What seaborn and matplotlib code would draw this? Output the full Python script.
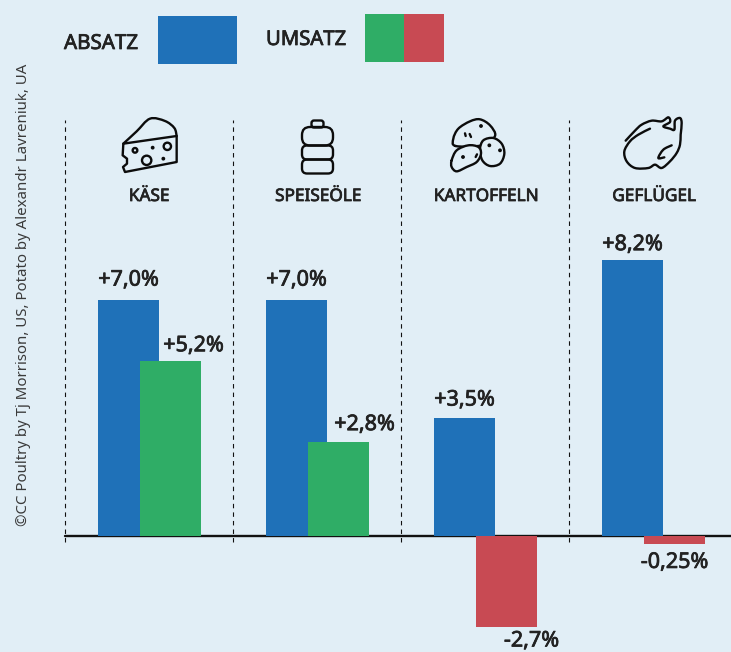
import numpy as np
import pandas as pd
import matplotlib
matplotlib.use('Agg')
import matplotlib.pyplot as plt
import matplotlib.patheffects as pe
import seaborn as sns
from matplotlib.path import Path
from matplotlib.patches import PathPatch, Circle, Rectangle, FancyBboxPatch

categories = ['KÄSE', 'SPEISEÖLE', 'KARTOFFELN', 'GEFLÜGEL']
absatz = [7.0, 7.0, 3.5, 8.2]
umsatz = [5.2, 2.8, -2.7, -0.25]
absatz_labels = ['+7,0%', '+7,0%', '+3,5%', '+8,2%']
umsatz_labels = ['+5,2%', '+2,8%', '-2,7%', '-0,25%']
credit = '©CC Poultry by Tj Morrison, US, Potato by Alexandr Lavreniuk, UA'

BG = '#E1EEF6'
BLUE = '#1F71B8'
GREEN = '#2FAD66'
RED = '#C84A53'
INK = '#222222'
DARK = '#0c0c0c'
FONT = 'Noto Sans'

sns.set_theme(style='white', rc={'axes.facecolor': BG, 'figure.facecolor': BG})
plt.rcParams['font.family'] = [FONT, 'DejaVu Sans']

# one group = 168 px, one percent = 33.7 px
PX_X = 168
PX_Y = 33.7
W, H = 731, 652
pos = np.arange(4)

fig = plt.figure(figsize=(W / 100, H / 100), dpi=100)
ax = fig.add_axes([0, 0, 1, 1])

df = pd.DataFrame({'cat': categories, 'pos': pos, 'absatz': absatz, 'umsatz': umsatz})
df['x_a'] = df.pos - 21.5 / PX_X
df['x_u'] = df.pos + 20.5 / PX_X
df['sign'] = np.where(df.umsatz > 0, 'up', 'down')

sns.barplot(data=df, x='x_a', y='absatz', native_scale=True, color=BLUE, saturation=1,
            width=61 / PX_X, ax=ax, zorder=3, linewidth=0, edgecolor='none')
sns.barplot(data=df, x='x_u', y='umsatz', hue='sign', palette={'up': GREEN, 'down': RED},
            dodge=False, native_scale=True, saturation=1, width=61 / PX_X, legend=False,
            ax=ax, zorder=4, linewidth=0, edgecolor='none')

ax.set_xlim(-150 / PX_X, (W - 150) / PX_X)
ax.set_ylim(-(H - 536) / PX_Y, 536 / PX_Y)
ax.axis('off')

ax.axhline(0, xmin=65 / W, color='#111111', lw=1.7, zorder=2)
ax.vlines(pos - 0.5 - 0.7 / PX_X, -6 / PX_Y, 416 / PX_Y, color='#111111', lw=0.8,
          linestyles=(0, (4, 3.7)), zorder=1)

# no medium weight here, a thin stroke thickens the regular cut
thick = [pe.withStroke(linewidth=0.55, foreground=INK)]
label_kw = dict(textcoords='offset pixels', ha='center', va='center', fontsize=15.5,
                color=INK, zorder=6, annotation_clip=False, path_effects=thick)
rise_a = [20, 20, 18, 15]
for x, v, t, dy in zip(df.x_a, absatz, absatz_labels, rise_a):
    ax.annotate(t, (x, v), xytext=(0, dy), **label_kw)
shift_u = [23, 26, 25, 0]
rise_u = [15, 17, -14, -18]
for x, v, t, dx, dy in zip(df.x_u, umsatz, umsatz_labels, shift_u, rise_u):
    ax.annotate(t, (x, v), xytext=(dx, dy), **label_kw)

# overlay in pixel coordinates for legend, icons and texts
ov = fig.add_axes([0, 0, 1, 1], facecolor='none')
ov.set_xlim(0, W)
ov.set_ylim(H, 0)
ov.axis('off')

ov.add_patch(Rectangle((158, 16), 79, 48, color=BLUE, lw=0))
ov.add_patch(Rectangle((365, 14), 39, 48, color=GREEN, lw=0))
ov.add_patch(Rectangle((404, 14), 40, 48, color=RED, lw=0))
ov.text(64, 44, 'ABSATZ', fontsize=14.8, color=INK, va='center', path_effects=thick)
ov.text(266, 40, 'UMSATZ', fontsize=14.6, color=INK, va='center', path_effects=thick)
ov.text(24, 295, credit, fontsize=10.8, color='#3a3a3a', rotation=90, ha='center', va='center')

for i, c in enumerate(categories):
    ov.text(150 + i * PX_X - (1 if i == 0 else 0), 196, c, fontsize=12.4, color=INK,
            ha='center', va='center', path_effects=thick)

ICON = dict(ec=DARK, lw=1.7, capstyle='round', joinstyle='round', zorder=5)


def smooth(points, off, closed=True):
    # catmull-rom through outline points traced at 3x zoom
    p = np.array(points, float) / 3 + off
    n = len(p)
    verts = [p[0]]
    codes = [Path.MOVETO]
    last = n if closed else n - 1
    for i in range(last):
        p0 = p[(i - 1) % n] if closed or i > 0 else p[i]
        p1 = p[i]
        p2 = p[(i + 1) % n]
        p3 = p[(i + 2) % n] if closed or i + 2 < n else p2
        verts += [p1 + (p2 - p0) / 6, p2 - (p3 - p1) / 6, p2]
        codes += [Path.CURVE4] * 3
    return Path(verts, codes)


def curve(points, off, closed=False, fill=None):
    ov.add_patch(PathPatch(smooth(points, off, closed), fill=bool(fill), fc=fill or 'none', **ICON))


def dots(points, off, r=1.2):
    for x, y in points:
        ov.add_patch(Circle((off[0] + x / 3, off[1] + y / 3), r, color=DARK, zorder=6))


# cheese
off = (115, 112)
curve([(25, 95), (65, 58), (105, 20), (150, 27), (178, 48), (185, 72)], off)
face = [(25, 95), (185, 72), (185, 150), (30, 180), (24, 165), (36, 155), (36, 140), (23, 130)]
verts = [(off[0] + x / 3, off[1] + y / 3) for x, y in face]
ov.add_patch(PathPatch(Path(verts + verts[:1], [Path.MOVETO] + [Path.LINETO] * 7 + [Path.CLOSEPOLY]),
                       fill=False, **ICON))
for x, y, r in [(60, 115, 7), (95, 145, 14), (157, 103, 11)]:
    ov.add_patch(Circle((off[0] + x / 3, off[1] + y / 3), r / 3, fill=False, **ICON))
dots([(113, 107), (145, 140)], off)

# bottle
ov.add_patch(FancyBboxPatch((311.5, 120.5), 12, 7, boxstyle='round,pad=0,rounding_size=2.5', fill=False, **ICON))
for y0, y1, rr in [(127, 145.5, 8), (145.5, 159.5, 5), (159.5, 173.5, 5)]:
    ov.add_patch(FancyBboxPatch((302, y0), 31, y1 - y0, boxstyle=f'round,pad=0,rounding_size={rr}',
                                fill=False, **ICON))

# potatoes
off = (445, 112)
curve([(32, 102), (25, 80), (40, 50), (75, 28), (105, 22), (135, 40), (150, 72), (110, 100)], off,
      closed=True, fill=BG)
curve([(105, 112), (115, 85), (145, 78), (170, 95), (178, 125), (165, 155), (135, 162), (112, 145)], off,
      closed=True, fill=BG)
curve([(20, 145), (35, 115), (70, 100), (100, 105), (108, 125), (95, 150), (65, 165), (35, 178), (20, 165)], off,
      closed=True, fill=BG)
curve([(60, 64), (62, 72)], off)
curve([(74, 66), (78, 75)], off)
curve([(96, 127), (92, 135)], off)
dots([(108, 42), (133, 100), (165, 115), (54, 135)], off)

# chicken
off = (615, 108)
curve([(32, 98), (60, 68), (80, 50), (110, 38), (140, 40), (160, 28), (165, 42), (145, 55),
       (165, 62), (178, 65), (180, 38), (195, 30), (200, 45), (197, 80), (195, 110), (185, 135),
       (165, 160), (140, 180), (120, 170), (100, 180), (60, 180), (35, 160), (28, 130), (45, 100),
       (70, 80), (105, 62)], off)
curve([(170, 112), (145, 125), (130, 150), (148, 148)], off)

fig.savefig('out.png', dpi=100, facecolor=BG)
